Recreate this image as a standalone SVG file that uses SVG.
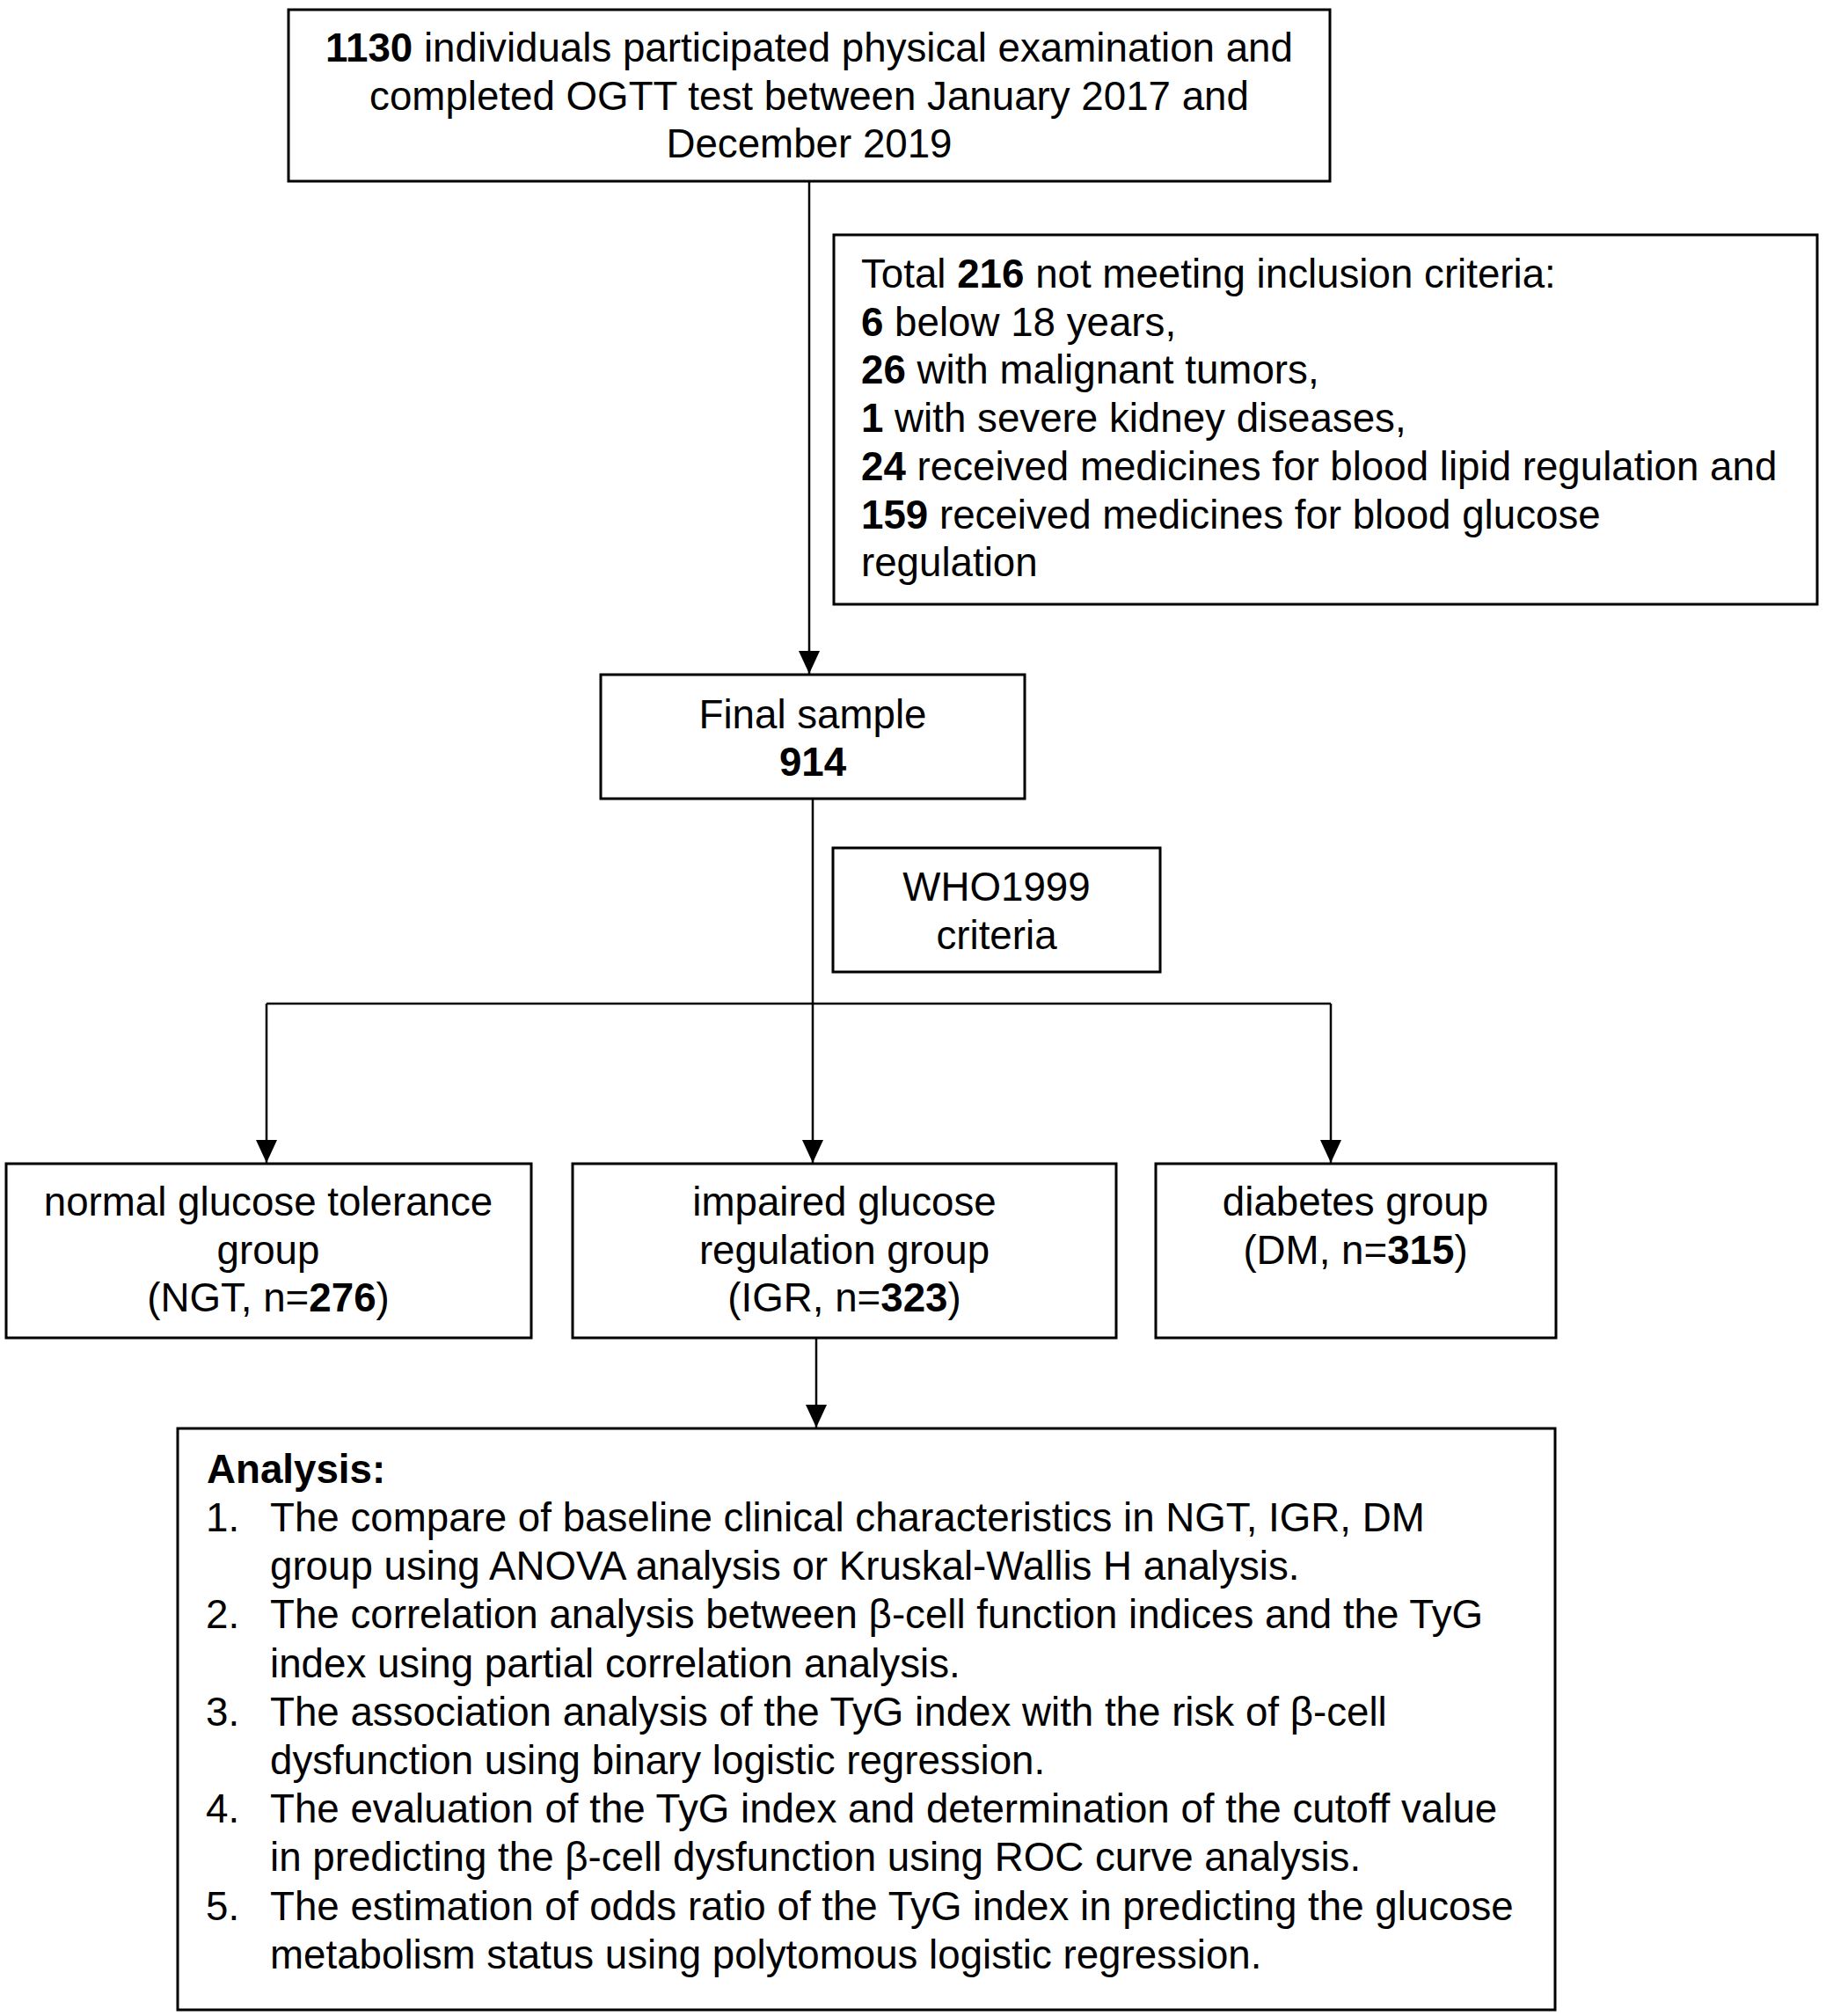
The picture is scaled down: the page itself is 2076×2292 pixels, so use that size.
<svg xmlns="http://www.w3.org/2000/svg" width="2076" height="2292" viewBox="0 0 2076 2292">
<defs>
<style>
.box{fill:#fff;stroke:#000;stroke-width:3}
.ln{fill:none;stroke:#000;stroke-width:2.5}
text{font-family:"Liberation Sans",Arial,Helvetica,sans-serif;font-size:45.7px;fill:#000}
.c{text-anchor:middle}
.b{font-weight:bold}
</style>
<marker id="arr" markerUnits="userSpaceOnUse" markerWidth="26" markerHeight="26" viewBox="0 0 26 26" refX="26" refY="13" orient="auto">
<path d="M0,1 L26,13 L0,25 Z" fill="#000"/>
</marker>
</defs>
<rect width="2076" height="2292" fill="#fff"/>
<g id="connectors">
<line class="ln" x1="920" y1="206" x2="920" y2="766" marker-end="url(#arr)"/>
<line class="ln" x1="924" y1="908" x2="924" y2="1322" marker-end="url(#arr)"/>
<line class="ln" x1="303" y1="1141" x2="1513" y2="1141"/>
<line class="ln" x1="303" y1="1141" x2="303" y2="1322" marker-end="url(#arr)"/>
<line class="ln" x1="1513" y1="1141" x2="1513" y2="1322" marker-end="url(#arr)"/>
<line class="ln" x1="928" y1="1521" x2="928" y2="1623" marker-end="url(#arr)"/>
</g>
<g id="n-start">
<rect class="box" x="328" y="11" width="1184" height="195"/>
<text class="c" x="920" y="70"><tspan class="b">1130</tspan> individuals participated physical examination and</text>
<text class="c" x="920" y="125">completed OGTT test between January 2017 and</text>
<text class="c" x="920" y="179">December 2019</text>
</g>
<g id="n-excluded">
<rect class="box" x="948" y="267" width="1118" height="420"/>
<text x="979" y="327">Total <tspan class="b">216</tspan> not meeting inclusion criteria:</text>
<text x="979" y="382"><tspan class="b">6</tspan> below 18 years,</text>
<text x="979" y="436"><tspan class="b">26</tspan> with malignant tumors,</text>
<text x="979" y="491"><tspan class="b">1</tspan> with severe kidney diseases,</text>
<text x="979" y="546"><tspan class="b">24</tspan> received medicines for blood lipid regulation and</text>
<text x="979" y="601"><tspan class="b">159</tspan> received medicines for blood glucose</text>
<text x="979" y="655">regulation</text>
</g>
<g id="n-final">
<rect class="box" x="683" y="767" width="482" height="141"/>
<text class="c" x="924" y="828">Final sample</text>
<text class="c b" x="924" y="882">914</text>
</g>
<g id="n-who">
<rect class="box" x="947" y="964" width="372" height="141"/>
<text class="c" x="1133" y="1024">WHO1999</text>
<text class="c" x="1133" y="1079">criteria</text>
</g>
<g id="n-ngt">
<rect class="box" x="7" y="1323" width="597" height="198"/>
<text class="c" x="305" y="1382">normal glucose tolerance</text>
<text class="c" x="305" y="1437">group</text>
<text class="c" x="305" y="1491">(NGT, n=<tspan class="b">276</tspan>)</text>
</g>
<g id="n-igr">
<rect class="box" x="651" y="1323" width="618" height="198"/>
<text class="c" x="960" y="1382">impaired glucose</text>
<text class="c" x="960" y="1437">regulation group</text>
<text class="c" x="960" y="1491">(IGR, n=<tspan class="b">323</tspan>)</text>
</g>
<g id="n-dm">
<rect class="box" x="1314" y="1323" width="455" height="198"/>
<text class="c" x="1541" y="1382">diabetes group</text>
<text class="c" x="1541" y="1437">(DM, n=<tspan class="b">315</tspan>)</text>
</g>
<g id="n-analysis">
<rect class="box" x="202" y="1624" width="1566" height="661"/>
<text class="b" x="235" y="1686">Analysis:</text>
<text x="234" y="1741">1.</text>
<text x="307" y="1741">The compare of baseline clinical characteristics in NGT, IGR, DM</text>
<text x="307" y="1796">group using ANOVA analysis or Kruskal-Wallis H analysis.</text>
<text x="234" y="1851">2.</text>
<text x="307" y="1851">The correlation analysis between β-cell function indices and the TyG</text>
<text x="307" y="1907">index using partial correlation analysis.</text>
<text x="234" y="1962">3.</text>
<text x="307" y="1962">The association analysis of the TyG index with the risk of β-cell</text>
<text x="307" y="2017">dysfunction using binary logistic regression.</text>
<text x="234" y="2072">4.</text>
<text x="307" y="2072">The evaluation of the TyG index and determination of the cutoff value</text>
<text x="307" y="2127">in predicting the β-cell dysfunction using ROC curve analysis.</text>
<text x="234" y="2183">5.</text>
<text x="307" y="2183">The estimation of odds ratio of the TyG index in predicting the glucose</text>
<text x="307" y="2238">metabolism status using polytomous logistic regression.</text>
</g>
</svg>
